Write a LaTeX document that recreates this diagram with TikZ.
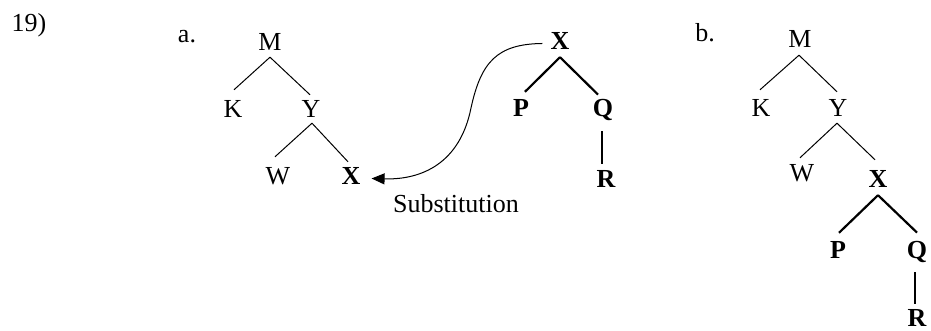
\documentclass[tikz,border=0pt]{standalone}
\usepackage{fontspec}
\setmainfont{Liberation Serif}
\usetikzlibrary{arrows.meta}
\begin{document}
\begin{tikzpicture}[x=1pt,y=-1pt,
  lbl/.style={anchor=base,inner sep=0pt,font=\fontsize{26}{30}\selectfont},
  blbl/.style={lbl,font=\fontsize{26}{30}\selectfont\bfseries},
  thinedge/.style={line width=1pt},
  thickedge/.style={line width=2.2pt},
  subarrow/.style={line width=1pt,-{Triangle[length=13pt,width=11pt]}}]
\useasboundingbox (0,0) rectangle (931,331);
% labels
\node[lbl] (n19) at (29,32) {19)};
\node[lbl] (la) at (187,43) {a.};
\node[lbl] (lb) at (705,42) {b.};
% tree a
\node[lbl] (aM) at (270,51) {M};
\node[lbl] (aK) at (233,118) {K};
\node[lbl] (aY) at (311,118) {Y};
\node[lbl] (aW) at (278,185) {W};
\node[blbl] (aX) at (351,185) {X};
\draw[thinedge] ([yshift=-6pt]aM.south) -- ([yshift=11pt,xshift=1pt]aK.north);
\draw[thinedge] ([yshift=-6pt]aM.south) -- ([yshift=6pt,xshift=-1pt]aY.north);
\draw[thinedge] ([yshift=-5pt,xshift=1pt]aY.south) -- ([yshift=11pt,xshift=-3pt]aW.north);
\draw[thinedge] ([yshift=-5pt,xshift=1pt]aY.south) -- ([yshift=6pt,xshift=-3pt]aX.north);
% elementary tree X
\node[blbl] (eX) at (560,50) {X};
\node[blbl] (eP) at (521,117) {P};
\node[blbl] (eQ) at (603,117) {Q};
\node[blbl] (eR) at (606,188) {R};
\draw[thickedge] ([yshift=-7pt]eX.south) -- ([yshift=8pt,xshift=4pt]eP.north);
\draw[thickedge] ([yshift=-7pt]eX.south) -- ([yshift=5pt,xshift=-5pt]eQ.north);
\draw[thickedge] ([yshift=-10pt,xshift=-1pt]eQ.south) -- ([yshift=7pt,xshift=-4pt]eR.north);
% substitution arrow
\node[lbl] (sub) at (456,212) {Substitution};
\draw[subarrow] ([xshift=-8pt,yshift=-2pt]eX.west) .. controls (497,44) and (481,62) .. (471,108)
  .. controls (460,163) and (422,180) .. ([xshift=11pt,yshift=-2pt]aX.east);
% tree b
\node[lbl] (bM) at (800,48) {M};
\node[lbl] (bK) at (761,117) {K};
\node[lbl] (bY) at (838,117) {Y};
\node[lbl] (bW) at (802,182) {W};
\node[blbl] (bX) at (878,188) {X};
\node[blbl] (bP) at (838,258) {P};
\node[blbl] (bQ) at (917,258) {Q};
\node[blbl] (bR) at (917,326) {R};
\draw[thinedge] ([yshift=-7pt,xshift=-1pt]bM.south) -- ([yshift=10pt,xshift=-1pt]bK.north);
\draw[thinedge] ([yshift=-7pt,xshift=-1pt]bM.south) -- ([yshift=8pt,xshift=-1pt]bY.north);
\draw[thinedge] ([yshift=-6pt,xshift=-1pt]bY.south) -- ([yshift=7pt,xshift=-2pt]bW.north);
\draw[thinedge] ([yshift=-6pt,xshift=-1pt]bY.south) -- ([yshift=11pt,xshift=-3pt]bX.north);
\draw[thickedge] ([yshift=-7pt]bX.south) -- ([yshift=8pt,xshift=1pt]bP.north);
\draw[thickedge] ([yshift=-7pt]bX.south) -- ([yshift=8pt]bQ.north);
\draw[thickedge] ([yshift=-10pt,xshift=-2pt]bQ.south) -- ([yshift=5pt,xshift=-2pt]bR.north);
\end{tikzpicture}
\end{document}
